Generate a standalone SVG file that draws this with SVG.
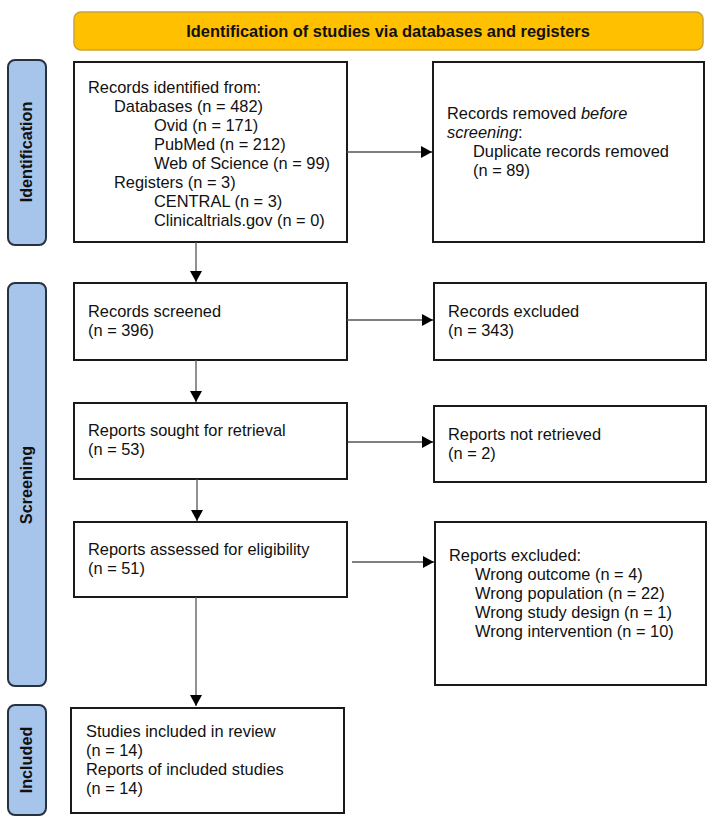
<svg xmlns="http://www.w3.org/2000/svg" width="714" height="820" viewBox="0 0 714 820">
<style>
.box{fill:#fff;stroke:#1a1a1a;stroke-width:2}
.side{fill:#A7C5EB;stroke:#27313f;stroke-width:2}
.banner{fill:#FFC000;stroke:#C9A23A;stroke-width:1.5}
.t{font-family:"Liberation Sans",Arial,sans-serif;font-size:16.4px;fill:#111}
.b{font-family:"Liberation Sans",Arial,sans-serif;font-size:16.4px;font-weight:bold;fill:#111}
.s{font-family:"Liberation Sans",Arial,sans-serif;font-size:16.2px;font-weight:bold;fill:#111;text-anchor:middle}
.c{stroke:#555;stroke-width:1.3;fill:none;marker-end:url(#ah)}
</style>
<defs>
<marker id="ah" markerUnits="userSpaceOnUse" markerWidth="12" markerHeight="12" refX="11" refY="6" orient="auto">
<path d="M0,0 L11,6 L0,12 z" fill="#000"/>
</marker>
</defs>
<rect width="714" height="820" fill="#fff"/>
<g id="banner">
<rect class="banner" x="74" y="12" width="629" height="38" rx="7"/>
<text class="b" x="388" y="37" text-anchor="middle">Identification of studies via databases and registers</text>
</g>
<g id="label-identification">
<rect class="side" x="8" y="60" width="38" height="185" rx="7"/>
<text class="s" transform="translate(32,152) rotate(-90)">Identification</text>
</g>
<g id="label-screening">
<rect class="side" x="8" y="283" width="38" height="403" rx="7"/>
<text class="s" transform="translate(32,485) rotate(-90)">Screening</text>
</g>
<g id="label-included">
<rect class="side" x="8" y="705" width="38" height="110" rx="7"/>
<text class="s" transform="translate(32,760) rotate(-90)">Included</text>
</g>
<g id="records-identified">
<rect class="box" x="74" y="62" width="273" height="180"/>
<text class="t" x="88" y="93">Records identified from:</text>
<text class="t" x="114" y="112">Databases (n = 482)</text>
<text class="t" x="154" y="131">Ovid (n = 171)</text>
<text class="t" x="154" y="150">PubMed (n = 212)</text>
<text class="t" x="154" y="169">Web of Science (n = 99)</text>
<text class="t" x="114" y="188">Registers (n = 3)</text>
<text class="t" x="154" y="207">CENTRAL (n = 3)</text>
<text class="t" x="154" y="226">Clinicaltrials.gov (n = 0)</text>
</g>
<g id="records-removed">
<rect class="box" x="433" y="62" width="271" height="180"/>
<text class="t" x="447" y="119">Records removed <tspan font-style="italic">before</tspan></text>
<text class="t" x="447" y="138"><tspan font-style="italic">screening</tspan>:</text>
<text class="t" x="473" y="157">Duplicate records removed</text>
<text class="t" x="473" y="176">(n = 89)</text>
</g>
<g id="records-screened">
<rect class="box" x="74" y="283" width="273" height="77"/>
<text class="t" x="88" y="317">Records screened</text>
<text class="t" x="88" y="336">(n = 396)</text>
</g>
<g id="records-excluded">
<rect class="box" x="434" y="283" width="272" height="77"/>
<text class="t" x="448" y="317">Records excluded</text>
<text class="t" x="448" y="336">(n = 343)</text>
</g>
<g id="reports-sought">
<rect class="box" x="74" y="403" width="273" height="76"/>
<text class="t" x="88" y="436">Reports sought for retrieval</text>
<text class="t" x="88" y="455">(n = 53)</text>
</g>
<g id="reports-not-retrieved">
<rect class="box" x="434" y="406" width="272" height="76"/>
<text class="t" x="448" y="440">Reports not retrieved</text>
<text class="t" x="448" y="459">(n = 2)</text>
</g>
<g id="reports-assessed">
<rect class="box" x="74" y="522" width="273" height="75"/>
<text class="t" x="88" y="555">Reports assessed for eligibility</text>
<text class="t" x="88" y="574">(n = 51)</text>
</g>
<g id="reports-excluded">
<rect class="box" x="435" y="522" width="271" height="163"/>
<text class="t" x="449" y="561">Reports excluded:</text>
<text class="t" x="475" y="580">Wrong outcome (n = 4)</text>
<text class="t" x="475" y="599">Wrong population (n = 22)</text>
<text class="t" x="475" y="618">Wrong study design (n = 1)</text>
<text class="t" x="475" y="637">Wrong intervention (n = 10)</text>
</g>
<g id="studies-included">
<rect class="box" x="71" y="708" width="273" height="105"/>
<text class="t" x="86" y="737">Studies included in review</text>
<text class="t" x="86" y="756">(n = 14)</text>
<text class="t" x="86" y="775">Reports of included studies</text>
<text class="t" x="86" y="794">(n = 14)</text>
</g>
<g id="connectors">
<line class="c" x1="347" y1="152" x2="432" y2="152"/>
<line class="c" x1="347" y1="320" x2="433" y2="320"/>
<line class="c" x1="348" y1="442" x2="433" y2="442"/>
<line class="c" x1="352" y1="562" x2="434" y2="562"/>
<line class="c" x1="196" y1="242" x2="196" y2="282"/>
<line class="c" x1="196" y1="360" x2="196" y2="402"/>
<line class="c" x1="197" y1="479" x2="197" y2="521"/>
<line class="c" x1="196" y1="597" x2="196" y2="706"/>
</g>
</svg>
